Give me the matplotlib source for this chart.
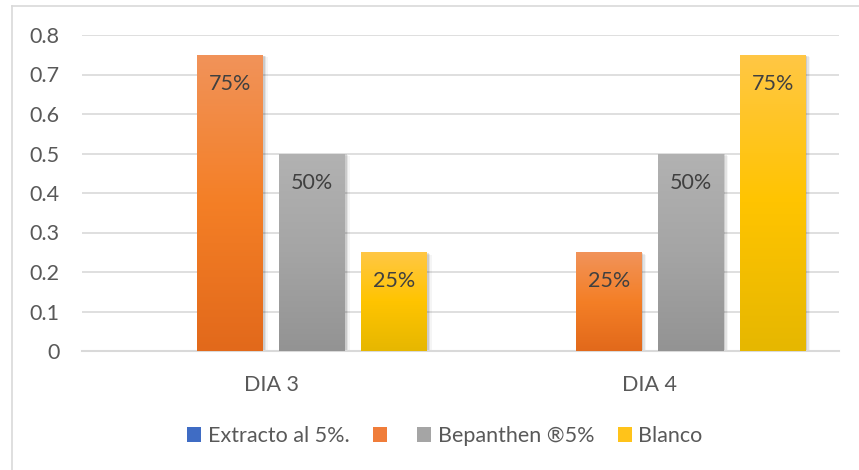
import numpy as np
import matplotlib
matplotlib.use("Agg")
import matplotlib.pyplot as plt
from matplotlib.colors import LinearSegmentedColormap
from matplotlib.patches import Patch, Rectangle
from matplotlib.lines import Line2D

plt.rcParams["font.family"] = ["Lato", "DejaVu Sans"]

# data
categories = ["DIA 3", "DIA 4"]
series_names = ["Extracto al 5%.", "", "Bepanthen \u00ae5%", "Blanco"]
extracto = [0, 0]
naranja = [0.75, 0.25]
bepanthen = [0.5, 0.5]
blanco = [0.25, 0.75]
y_ticks = [0, 0.1, 0.2, 0.3, 0.4, 0.5, 0.6, 0.7, 0.8]

series_values = [extracto, naranja, bepanthen, blanco]

# excel style gradients (top, middle, bottom)
gradients = [
    ["#6a96dc", "#4472c4", "#2f5eb5"],
    ["#f1935a", "#f47f26", "#e2691b"],
    ["#b2b2b2", "#a5a5a5", "#939393"],
    ["#ffc745", "#ffc400", "#e6b700"],
]
legend_colors = ["#3f6cc4", "#f07d3a", "#a5a5a5", "#ffc31a"]

text_color = "#595959"
grid_color = "#d9d9d9"

fig = plt.figure(figsize=(8.59, 4.70), dpi=100)
ax = fig.add_axes([82 / 859, 1 - 351 / 470, (839 - 82) / 859, (351 - 35) / 470])

step = 0.2166
width = 0.174
x = np.arange(len(categories))

grad = np.linspace(0, 1, 256).reshape(-1, 1)

for i, (vals, cols) in enumerate(zip(series_values, gradients)):
    cmap = LinearSegmentedColormap.from_list("g%d" % i, cols[::-1])
    pos = x + (i - 1.5) * step
    bars = ax.bar(pos, vals, width, color=cols[1], zorder=3, linewidth=0)
    for b, v in zip(bars, vals):
        if v <= 0:
            continue
        x0, w, h = b.get_x(), b.get_width(), b.get_height()
        # soft shadow
        for k, a in enumerate([0.10, 0.07, 0.04]):
            sh = Rectangle((x0 + 0.002 * (k + 1), -0.002 * (k + 1)), w + 0.002 * (k + 1), h,
                           facecolor="#000000", alpha=a, linewidth=0, zorder=2)
            ax.add_patch(sh)
        im = ax.imshow(grad, cmap=cmap, origin="lower", aspect="auto",
                       extent=[x0, x0 + w, 0, h], zorder=3.5)
        im.set_clip_path(b)
        ax.annotate(f"{v:.0%}", (x0 + w / 2, h), xytext=(0, -21), textcoords="offset points",
                    ha="center", va="center", fontsize=15.5, color="#404040", zorder=5)

ax.set_xlim(-0.5, 1.5)
ax.set_ylim(0, 0.8)
ax.set_yticks(y_ticks)
ax.set_yticklabels(["0" if t == 0 else f"{t:.1f}" for t in y_ticks])
ax.set_xticks(x)
ax.set_xticklabels(categories)
ax.tick_params(axis="both", length=0, labelsize=15.5, labelcolor=text_color)
ax.tick_params(axis="y", pad=16)
ax.tick_params(axis="x", pad=17)
ax.grid(axis="y", color=grid_color, linewidth=1.2, zorder=0)
ax.set_axisbelow(True)
for s in ["left", "right", "top"]:
    ax.spines[s].set_visible(False)
ax.spines["bottom"].set_color(grid_color)
ax.spines["bottom"].set_linewidth(1.5)

# chart border (runs off the right and bottom edge)
fig.add_artist(Line2D([12 / 859, 12 / 859], [0, 1 - 6 / 470], color=grid_color, lw=1.2))
fig.add_artist(Line2D([12 / 859, 1], [1 - 6 / 470, 1 - 6 / 470], color=grid_color, lw=1.2))

handles = [Patch(facecolor=c, edgecolor="none") for c in legend_colors]
fig.legend(handles, series_names, loc="center", bbox_to_anchor=(0.518, 1 - 436 / 470), ncol=4,
           frameon=False, fontsize=15.5, labelcolor=text_color, handlelength=0.65,
           handleheight=0.65, handletextpad=0.3, columnspacing=1.1)

fig.savefig("out.png", dpi=100)
